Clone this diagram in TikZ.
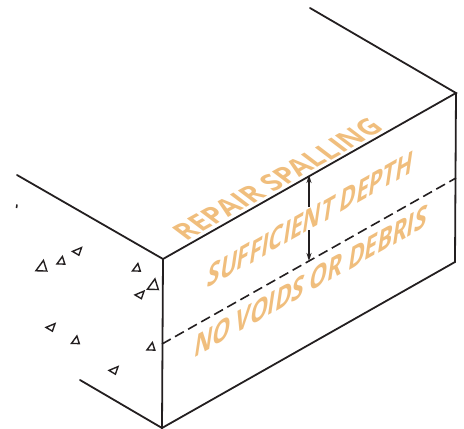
\documentclass[tikz,border=0pt]{standalone}
\usepackage{fontspec}
\usetikzlibrary{arrows.meta}
\setmainfont{Open Sans}
\definecolor{lbl}{HTML}{F0BE7D}
\definecolor{ink}{HTML}{231F20}
\tikzset{
 edge/.style={draw=ink,line width=1.8pt,line cap=round},
 dash line/.style={draw=ink,line width=1.6pt,dash pattern=on 10pt off 5pt},
 shaft/.style={draw=ink,line width=1.4pt,-{Stealth[length=8pt,width=5pt]}},
 tri/.style={draw=ink,line width=1.4pt,line join=miter},
 toplabel/.style={text=lbl,font=\fontsize{24}{24}\selectfont\bfseries,transform shape,inner sep=0pt},
 facelabel/.style={text=lbl,font=\fontsize{24}{24}\selectfont\bfseries,transform shape,inner sep=0pt},
 triA/.pic={\draw[tri] (1.4,-4) -- (-4,3.4) -- (3.8,3.6) -- cycle;},
 triB/.pic={\draw[tri] (-4.5,0.4) -- (4.5,-3.4) -- (1.9,4.2) -- cycle;},
}
\begin{document}
\begin{tikzpicture}[x=1pt,y=-1pt]
\useasboundingbox (0,0) rectangle (464,429);
\coordinate (ft) at (163,259);
\coordinate (fb) at (162,428);
\coordinate (rt) at (456,93);
\coordinate (rb) at (455,262);
\coordinate (bk) at (310,8);
\coordinate (lt) at (17,175);
\coordinate (lb) at (80,380);
\coordinate (dl) at (162,344);
\coordinate (dr) at (456,178);
\coordinate (a1) at (309,175);
\coordinate (a1e) at (309,207);
\coordinate (a2) at (309,261);
\coordinate (a2e) at (309,230);
\draw[edge] (lt) -- (ft) -- (rt) -- (bk);
\draw[edge] (ft) -- (fb) -- (rb) -- (rt);
\draw[edge] (lb) -- (fb);
\draw[dash line] (dl) -- (dr);
\draw[shaft] (a1e) -- (a1);
\draw[shaft] (a2e) -- (a2);
\draw[draw=ink,line width=1.6pt] (17,204.5) -- (16.5,208);
\pic[scale=1.4] at (41.5,266) {triA};
\pic at (61,260.5) {triA};
\pic at (77,251) {triB};
\pic at (136.5,267.5) {triA};
\pic[scale=1.4] at (153,284.5) {triA};
\pic at (139.5,294.5) {triB};
\pic at (50.5,327) {triB};
\pic at (75.5,340) {triA};
\pic at (151,346.5) {triA};
\pic at (113.5,370) {triB};
\node[toplabel,cm={.97,.545,-.95,.72,(0,0)}] (n1) at (278,179) {REPAIR SPALLING};
\node[facelabel,cm={.93,.525,.2,1.35,(0,0)}] (n2) at (311,219) {SUFFICIENT DEPTH};
\node[facelabel,cm={.93,.525,.2,1.35,(0,0)}] (n3) at (311,281) {NO VOIDS OR DEBRIS};
\end{tikzpicture}
\end{document}
